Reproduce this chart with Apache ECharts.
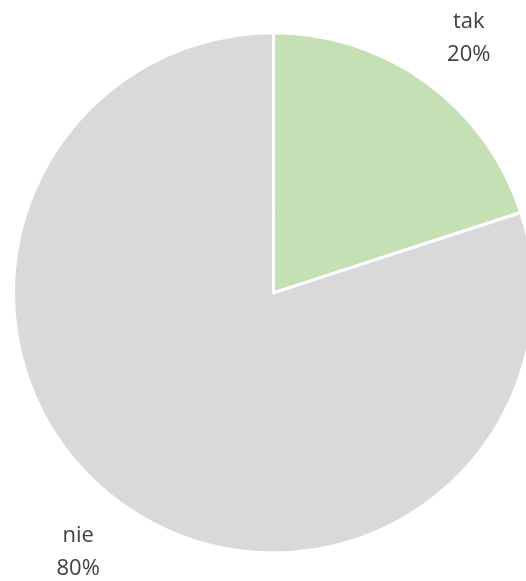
<!DOCTYPE html>
<html>
<head>
<meta charset="utf-8">
<script src="https://cdn.jsdelivr.net/npm/echarts@6/dist/echarts.min.js"></script>
<style>
  html, body { margin: 0; padding: 0; background: #ffffff; }
  #chart { width: 526px; height: 581px; }
</style>
</head>
<body>
<div id="chart"></div>
<script>
// Answer categories and their shares
const categories = ['tak', 'nie'];
const values = [20, 80];
const colors = ['#c5e0b4', '#d9d9d9'];

// Label placement: distance out from the rim, plus a small nudge
const labelDistances = [62, 74];
const labelNudges = [[1, 6], [6, -11]];

const chart = echarts.init(document.getElementById('chart'), null, { renderer: 'canvas' });

const data = categories.map((name, i) => ({
  name: name,
  value: values[i],
  itemStyle: { color: colors[i] },
  labelLine: { length: labelDistances[i], length2: 0 }
}));

chart.setOption({
  animation: false,
  backgroundColor: '#ffffff',
  series: [{
    type: 'pie',
    center: ['52%', '50.4%'],
    radius: 260,
    startAngle: 90,
    clockwise: true,
    avoidLabelOverlap: false,
    emphasis: { disabled: true },
    itemStyle: { borderColor: '#ffffff', borderWidth: 3 },
    label: {
      show: true,
      position: 'outside',
      formatter: '{b}\n{d}%',
      fontFamily: 'Open Sans',
      fontSize: 22,
      lineHeight: 33,
      color: '#404040'
    },
    labelLine: { show: false },
    labelLayout: function (params) {
      const n = labelNudges[params.dataIndex];
      return { align: 'center', verticalAlign: 'middle', dx: n[0], dy: n[1] };
    },
    data: data
  }]
});
</script>
</body>
</html>
